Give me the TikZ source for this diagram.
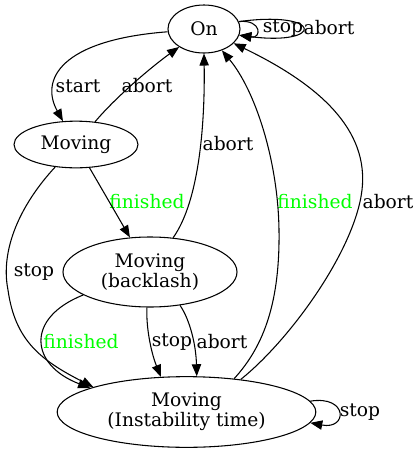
\documentclass[tikz,border=0pt]{standalone}
\usepackage{fontspec}
\setmainfont{DejaVu Serif}
\usetikzlibrary{shapes.geometric,arrows.meta}
\definecolor{gvgreen}{RGB}{0,255,0}
\begin{document}
\begin{tikzpicture}[x=0.75pt,y=-0.75pt,
  st/.style={draw,ellipse,line width=0.8pt,inner sep=0pt,align=center,font=\fontsize{14}{15}\selectfont},
  lbl/.style={inner sep=0pt,font=\fontsize{14}{15}\selectfont},
  glbl/.style={lbl,text=gvgreen},
  edge/.style={line width=0.8pt,-{Triangle[length=9pt,width=7pt]}}]
\useasboundingbox (0,0) rectangle (420,454);
\node[st,minimum width=54pt,minimum height=36pt] (on) at (204,29) {On};
\node[st,minimum width=93pt,minimum height=35pt] (mov) at (76,144.5) {Moving};
\node[st,minimum width=130.5pt,minimum height=52.5pt] (back) at (150,272) {Moving\\(backlash)};
\node[st,minimum width=194pt,minimum height=53pt] (inst) at (186.5,412) {Moving\\(Instability time)};
% labels
\node[lbl] (l1) at (78,86) {start};
\node[lbl] (l2) at (147,86) {abort};
\node[lbl] (l3) at (283,28) {stop};
\node[lbl] (l4) at (329,28) {abort};
\node[glbl] (l5) at (147,202) {finished};
\node[lbl] (l6) at (34,272) {stop};
\node[lbl] (l7) at (228,144) {abort};
\node[glbl] (l8) at (315,202) {finished};
\node[lbl] (l9) at (388,202) {abort};
\node[glbl] (l10) at (81,342) {finished};
\node[lbl] (l11) at (172,342) {stop};
\node[lbl] (l12) at (222,342) {abort};
\node[lbl] (l13) at (360,412) {stop};
% edges
\draw[edge] (on) .. controls (60,40) and (40,80) .. (mov);
\draw[edge] (mov) .. controls (115,98) and (150,68) .. (on);
\draw[edge] (on.12) .. controls (262,19) and (262,39) .. (on.-10);
\draw[edge] (on.12) .. controls (324,10) and (324,46) .. (on.-10);
\draw[edge] (mov) -- (back);
\draw[edge] (mov) .. controls (20,205) and (0,250) .. (8,290) .. controls (15,340) and (40,360) .. (inst.165);
\draw[edge] (back.56) .. controls (200,200) and (205,120) .. (on.270);
\draw[edge] (inst.35) .. controls (265,345) and (280,300) .. (279,230) .. controls (278,160) and (255,90) .. (on);
\draw[edge] (inst.31) .. controls (290,340) and (355,250) .. (362,190) .. controls (369,130) and (320,85) .. (on);
\draw[edge] (back.199) .. controls (25,318) and (30,365) .. (inst.166);
\draw[edge] (back.265) .. controls (146,330) and (152,355) .. (inst.126);
\draw[edge] (back.-48) .. controls (190,320) and (196,345) .. (inst.74);
\draw[edge] (inst.5) .. controls (348,395) and (348,430) .. (inst.-5);
\end{tikzpicture}
\end{document}
